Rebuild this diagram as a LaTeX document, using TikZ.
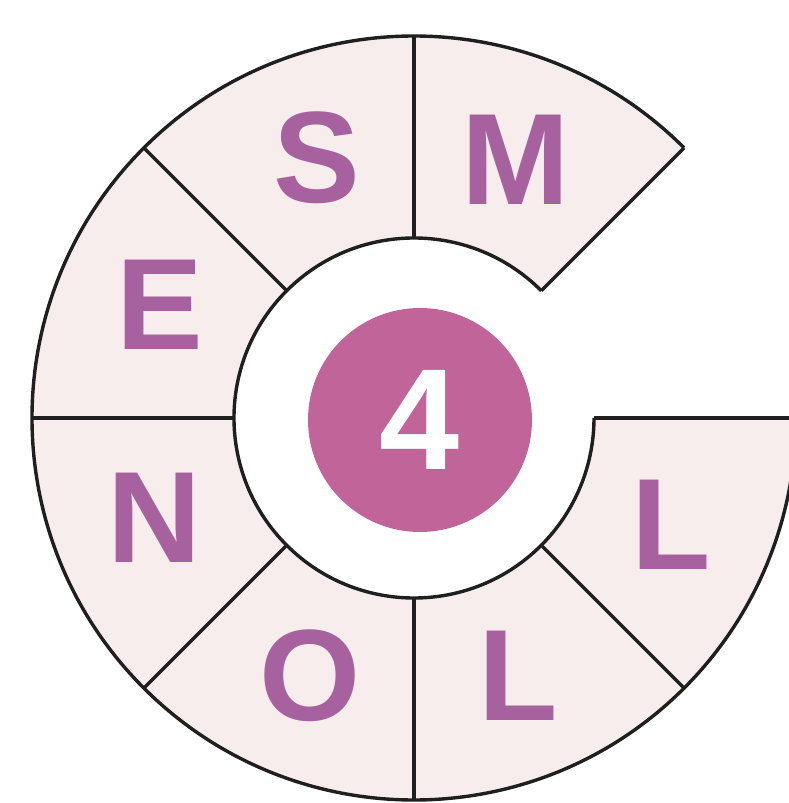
\documentclass[tikz,border=0pt]{standalone}
\usepackage{fontspec}
\setmainfont{Liberation Sans}
\definecolor{wheelfill}{HTML}{F8EDED}
\definecolor{letterpurple}{HTML}{A7619F}
\definecolor{centerpink}{HTML}{C0649A}
\tikzset{
  wheelline/.style={line width=3.4pt, black!88},
  letter/.style={text=letterpurple, font=\bfseries\fontsize{130}{130}\selectfont},
}
\begin{document}
\begin{tikzpicture}[x=1pt,y=1pt]
    \useasboundingbox (-414,-385) rectangle (375,418);
    \clip (-414,-385) rectangle (375,418);
    \fill[wheelfill] (45:382pt) arc[start angle=45,end angle=360,radius=382pt] -- (0:180pt) arc[start angle=360,end angle=45,radius=180pt] -- cycle;
    \draw[wheelline] (45:382pt) arc[start angle=45,end angle=360,radius=382pt];
    \draw[wheelline] (45:180pt) arc[start angle=45,end angle=360,radius=180pt];
    \foreach \a in {45,90,...,360}
        \draw[wheelline] (\a:180pt) -- (\a:382pt);
    \fill[centerpink] (6,-2) circle[radius=112pt];
    \node[text=white, font=\bfseries\fontsize{144}{144}\selectfont] (num) at (6,-2) {4};
    \foreach \l/\a in {M/68.5, S/110.5, E/156, N/201, O/248, L/292, L/337.5}
        \node[letter] (let\a) at (\a:278pt) {\l};
\end{tikzpicture}
\end{document}
